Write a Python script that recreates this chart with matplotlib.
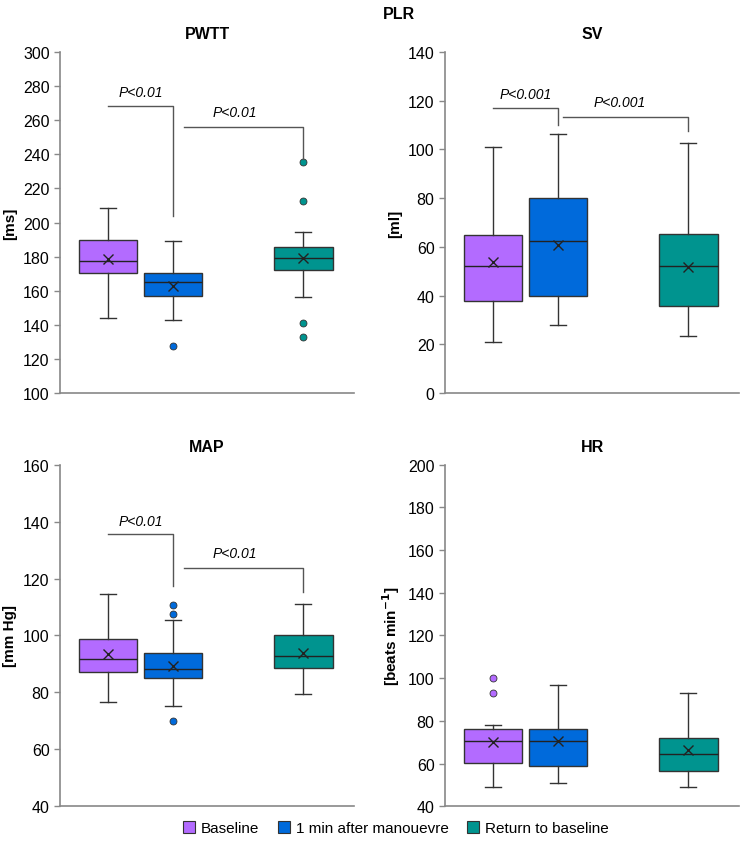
import matplotlib.pyplot as plt
from matplotlib.patches import Patch

plt.rcParams['font.family'] = ['Liberation Sans', 'DejaVu Sans']

groups = ["Baseline", "1 min after manouevre", "Return to baseline"]
colors = ["#B36BFF", "#006ADB", "#00948F"]
positions = [1, 2, 4]

# PWTT [ms]
pwtt_q1 = [170.6, 156.9, 172.1]
pwtt_med = [177.4, 165.0, 179.0]
pwtt_q3 = [189.8, 170.2, 185.8]
pwtt_lo = [144.0, 142.6, 156.3]
pwtt_hi = [208.4, 189.2, 194.4]
pwtt_mean = [178.4, 162.8, 179.0]
pwtt_fliers = [[], [127.4], [235.5, 212.6, 141.0, 132.8]]

# SV [ml]
sv_q1 = [37.8, 39.8, 35.7]
sv_med = [52.0, 62.4, 52.0]
sv_q3 = [64.7, 79.9, 65.4]
sv_lo = [21.0, 27.8, 23.3]
sv_hi = [101.0, 106.3, 102.6]
sv_mean = [53.6, 60.6, 51.9]
sv_fliers = [[], [], []]

# MAP [mm Hg]
map_q1 = [87.2, 85.0, 88.5]
map_med = [91.6, 88.2, 92.7]
map_q3 = [98.9, 93.8, 100.3]
map_lo = [76.5, 75.1, 79.3]
map_hi = [114.7, 105.3, 110.9]
map_mean = [93.4, 89.4, 93.7]
map_fliers = [[], [110.6, 107.5, 69.8], []]

# HR [beats/min]
hr_q1 = [60.1, 58.7, 56.5]
hr_med = [70.4, 70.4, 64.5]
hr_q3 = [76.4, 76.4, 72.2]
hr_lo = [49.0, 51.1, 49.0]
hr_hi = [77.9, 96.8, 92.9]
hr_mean = [70.1, 70.7, 66.4]
hr_fliers = [[99.9, 92.9], [], []]

# significance brackets: (x_left, x_right, y_bar, y_drop, label, label_y, label_x)
pwtt_sig = [(1.0, 2.0, 268.3, 203.8, "P<0.01", 272.5, 1.5),
            (2.16, 4.0, 256.2, 237.0, "P<0.01", 260.5, 2.95)]
sv_sig = [(1.0, 2.0, 116.9, 110.2, "P<0.001", 119.8, 1.5),
          (2.08, 4.0, 113.5, 107.4, "P<0.001", 116.5, 2.95)]
map_sig = [(1.0, 2.0, 135.5, 117.5, "P<0.01", 137.8, 1.5),
           (2.16, 4.0, 123.8, 115.2, "P<0.01", 126.4, 2.95)]

panels = [
    ("PWTT", "[ms]", (100, 300), 20, pwtt_q1, pwtt_med, pwtt_q3, pwtt_lo, pwtt_hi, pwtt_mean, pwtt_fliers, pwtt_sig),
    ("SV", "[ml]", (0, 140), 20, sv_q1, sv_med, sv_q3, sv_lo, sv_hi, sv_mean, sv_fliers, sv_sig),
    ("MAP", "[mm Hg]", (40, 160), 20, map_q1, map_med, map_q3, map_lo, map_hi, map_mean, map_fliers, map_sig),
    ("HR", "[beats min$^{\\mathbf{-1}}$]", (40, 200), 20, hr_q1, hr_med, hr_q3, hr_lo, hr_hi, hr_mean, hr_fliers, []),
]

fig = plt.figure(figsize=(7.4, 8.45), dpi=100)
rects = [
    [0.0811, 0.5337, 0.3973, 0.4036],
    [0.6014, 0.5337, 0.3973, 0.4036],
    [0.0811, 0.0446, 0.3973, 0.4043],
    [0.6014, 0.0446, 0.3973, 0.4043],
]

for rect, (title, ylab, ylim, step, q1, med, q3, lo, hi, mean, fliers, sig) in zip(rects, panels):
    ax = fig.add_axes(rect)
    stats = []
    for i in range(3):
        stats.append(dict(q1=q1[i], med=med[i], q3=q3[i], whislo=lo[i],
                          whishi=hi[i], mean=mean[i], fliers=fliers[i]))
    bp = ax.bxp(stats, positions=positions, widths=0.9, capwidths=0.25,
                showmeans=True, patch_artist=True,
                meanprops=dict(marker='x', markeredgecolor='#222222', markersize=7,
                               markeredgewidth=1.0),
                medianprops=dict(color='#222222', linewidth=1.0),
                whiskerprops=dict(color='#333333', linewidth=1.0),
                capprops=dict(color='#333333', linewidth=1.0),
                boxprops=dict(edgecolor='#333333', linewidth=1.0))
    for patch, c in zip(bp['boxes'], colors):
        patch.set_facecolor(c)
    for fl, c in zip(bp['fliers'], colors):
        fl.set(marker='o', markerfacecolor=c, markeredgecolor='#333333',
               markeredgewidth=0.6, markersize=5)

    for xl, xr, yb, yd, lab, ly, lx in sig:
        ax.plot([xl, xr, xr], [yb, yb, yd], color='#555555', linewidth=1.0)
        ax.text(lx, ly, lab, ha='center', va='bottom', fontsize=10, style='italic')

    ax.set_xlim(0.26, 4.78)
    ax.set_ylim(*ylim)
    ax.set_yticks(range(ylim[0], ylim[1] + 1, step))
    ax.set_xticks([])
    for s in ['top', 'right']:
        ax.spines[s].set_visible(False)
    for s in ['left', 'bottom']:
        ax.spines[s].set_color('#888888')
        ax.spines[s].set_linewidth(1.2)
    ax.tick_params(axis='y', colors='#888888', labelcolor='black', labelsize=11.5,
                   length=4, width=1.0)
    ax.set_title(title, fontsize=11.5, fontweight='bold', pad=10)
    ax.set_ylabel(ylab, fontsize=11, fontweight='bold', labelpad=4)

fig.text(0.539, 0.992, "PLR", ha='center', va='top', fontsize=11.5, fontweight='bold')

handles = [Patch(facecolor=c, edgecolor='#333333', linewidth=0.8) for c in colors]
fig.legend(handles, groups, loc='lower center', bbox_to_anchor=(0.535, -0.006), ncol=3,
           frameon=False, fontsize=11, handlelength=0.8, handleheight=0.8,
           handletextpad=0.4, columnspacing=1.2)

fig.savefig("out.png", dpi=100)
